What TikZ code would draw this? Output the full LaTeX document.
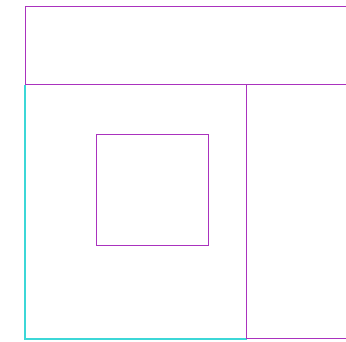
\documentclass[tikz,border=0pt]{standalone}
\usepackage{tikz}
\definecolor{planmagenta}{RGB}{170,50,190}
\definecolor{plancyan}{RGB}{60,215,215}
\tikzset{
    wall/.style={
        draw=planmagenta,
        line width=1pt
    },
    edge/.style={
        draw=plancyan,
        line width=1.1pt
    }
}
\begin{document}
\begin{tikzpicture}[x=1pt,y=-1pt]

\useasboundingbox (0,0) rectangle (346,342);
\clip (0,0) rectangle (346,342);

% top band, open to the right
\draw[wall] (25,6.5) rectangle (352,85);

% lower left room
\draw[edge] (25,85) -- (25,339) -- (246.5,339);
\draw[wall] (246.5,85) -- (246.5,339) -- (352,339);

% inner square
\node[wall, minimum width=112pt, minimum height=111pt, inner sep=0pt, anchor=north west] (box) at (96,134.5) {};

\end{tikzpicture}
\end{document}
